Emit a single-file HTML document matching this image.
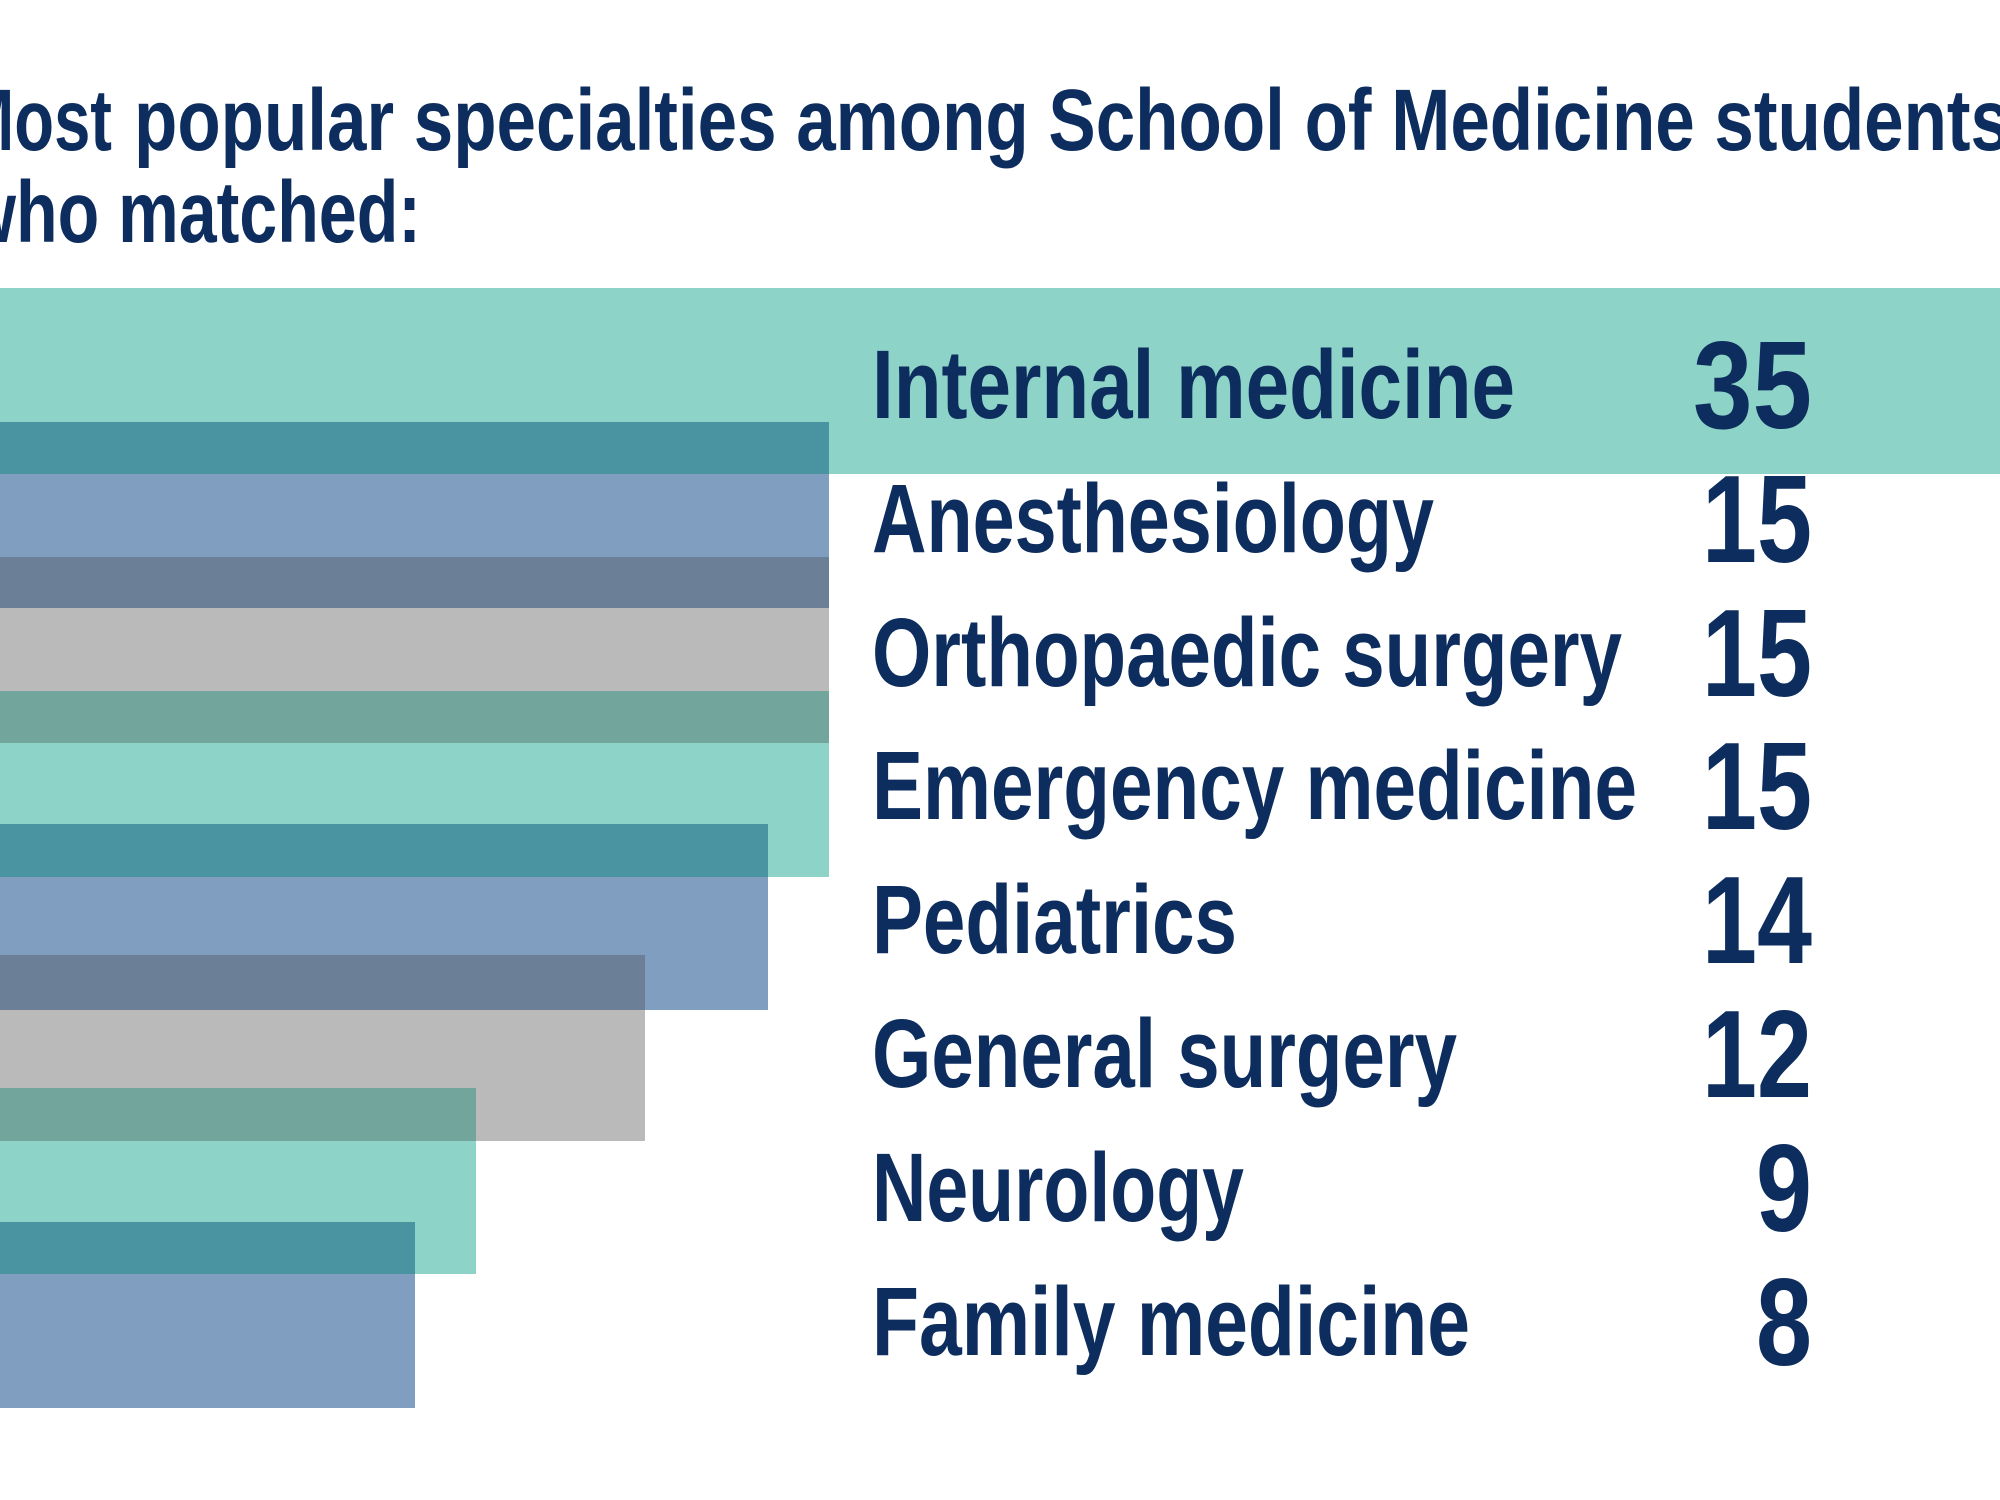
<!DOCTYPE html>
<html><head><meta charset="utf-8"><style>
html,body{margin:0;padding:0;background:#fff;width:2000px;height:1500px;overflow:hidden}
svg text{font-family:"Liberation Sans Narrow","Liberation Sans",sans-serif;font-weight:bold;fill:#0c2d5e}
</style></head><body>
<svg width="2000" height="1500" viewBox="0 0 2000 1500" xmlns="http://www.w3.org/2000/svg">
<rect width="2000" height="1500" fill="#fff"/>
<rect x="0" y="288" width="2000" height="186" fill="#8dd3c7"/>
<rect x="0" y="422" width="829" height="186" fill="#809fc0"/>
<rect x="0" y="557" width="829" height="186" fill="#bababa"/>
<rect x="0" y="691" width="829" height="186" fill="#8dd3c7"/>
<rect x="0" y="824" width="768" height="186" fill="#809fc0"/>
<rect x="0" y="955" width="645" height="186" fill="#bababa"/>
<rect x="0" y="1088" width="476" height="186" fill="#8dd3c7"/>
<rect x="0" y="1222" width="415" height="186" fill="#809fc0"/>
<rect x="0" y="422" width="829" height="52" fill="#4a93a0"/>
<rect x="0" y="557" width="829" height="51" fill="#6b8096"/>
<rect x="0" y="691" width="829" height="52" fill="#72a59b"/>
<rect x="0" y="824" width="768" height="53" fill="#4a93a0"/>
<rect x="0" y="955" width="645" height="55" fill="#6b8096"/>
<rect x="0" y="1088" width="476" height="53" fill="#72a59b"/>
<rect x="0" y="1222" width="415" height="52" fill="#4a93a0"/>
<text x="112" y="150" font-size="87" text-anchor="end" textLength="152" lengthAdjust="spacingAndGlyphs">Most</text>
<text x="134" y="150" font-size="87" textLength="1876" lengthAdjust="spacingAndGlyphs">popular specialties among School of Medicine students</text>
<text x="421" y="242" font-size="87" text-anchor="end" textLength="458" lengthAdjust="spacingAndGlyphs">who matched:</text>
<g font-size="97">
<text x="872" y="418" textLength="643" lengthAdjust="spacingAndGlyphs">Internal medicine</text>
<text x="872" y="552" textLength="562" lengthAdjust="spacingAndGlyphs">Anesthesiology</text>
<text x="872" y="686" textLength="750" lengthAdjust="spacingAndGlyphs">Orthopaedic surgery</text>
<text x="872" y="819" textLength="765" lengthAdjust="spacingAndGlyphs">Emergency medicine</text>
<text x="872" y="953" textLength="365" lengthAdjust="spacingAndGlyphs">Pediatrics</text>
<text x="872" y="1087" textLength="585" lengthAdjust="spacingAndGlyphs">General surgery</text>
<text x="872" y="1221" textLength="372" lengthAdjust="spacingAndGlyphs">Neurology</text>
<text x="872" y="1355" textLength="598" lengthAdjust="spacingAndGlyphs">Family medicine</text>
</g>
<g font-size="124" text-anchor="end">
<text x="1812" y="428" textLength="119" lengthAdjust="spacingAndGlyphs">35</text>
<text x="1812" y="562" textLength="110" lengthAdjust="spacingAndGlyphs">15</text>
<text x="1812" y="696" textLength="110" lengthAdjust="spacingAndGlyphs">15</text>
<text x="1812" y="829" textLength="110" lengthAdjust="spacingAndGlyphs">15</text>
<text x="1812" y="963" textLength="110" lengthAdjust="spacingAndGlyphs">14</text>
<text x="1812" y="1097" textLength="110" lengthAdjust="spacingAndGlyphs">12</text>
<text x="1812" y="1231" textLength="56" lengthAdjust="spacingAndGlyphs">9</text>
<text x="1812" y="1365" textLength="56" lengthAdjust="spacingAndGlyphs">8</text>
</g>
</svg>
</body></html>
